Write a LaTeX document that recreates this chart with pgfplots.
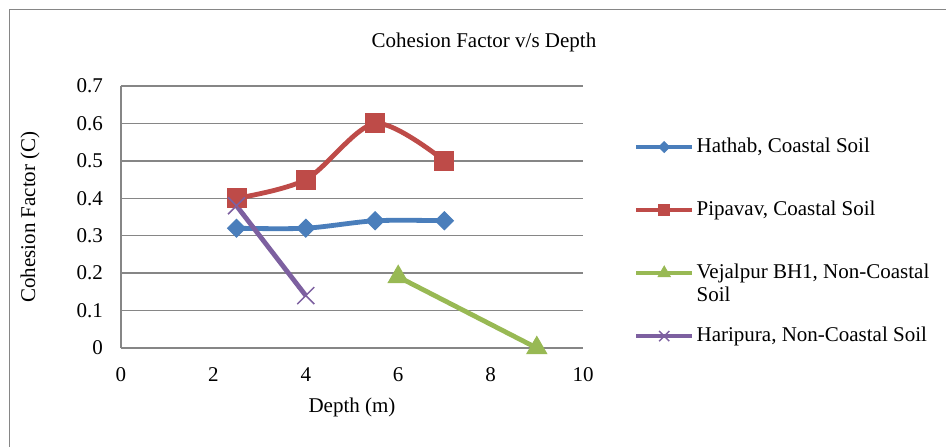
\documentclass[border=0pt]{standalone}
\usepackage{fontspec}
\setmainfont{Liberation Serif}
\usepackage{pgfplots}
\pgfplotsset{compat=1.18}
\definecolor{cblue}{HTML}{4A7EBB}
\definecolor{cred}{HTML}{BE4B48}
\definecolor{cgreen}{HTML}{98B954}
\definecolor{cpurple}{HTML}{7D60A0}
\definecolor{cgrid}{HTML}{868686}
\newcommand{\ff}{\fontsize{21}{23}\selectfont}
\begin{document}
\begin{tikzpicture}[x=1pt,y=1pt,font=\ff]
\useasboundingbox (0,0) rectangle (946,447);
\draw[cgrid, line width=1.3pt] (9.5,0) -- (9.5,437.5) -- (946,437.5);
\node[anchor=base] at (484,399) {Cohesion Factor v/s Depth};
\begin{axis}[
  at={(121pt,99pt)}, anchor=south west,
  scale only axis, width=462pt, height=262pt,
  xmin=0, xmax=10, ymin=0, ymax=0.7,
  clip=false,
  axis lines=left,
  axis line style={-, cgrid, line width=1.5pt},
  ymajorgrids, grid style={cgrid, line width=1.3pt},
  major tick length=0pt,
  xtick={0,2,4,6,8,10},
  xticklabels={0,2,4,6,8,10},
  ytick={0,0.1,0.2,0.3,0.4,0.5,0.6,0.7},
  yticklabels={0,0.1,0.2,0.3,0.4,0.5,0.6,0.7},
  tick label style={font=\ff},
  yticklabel style={inner sep=0pt, anchor=east, xshift=-18pt},
  xticklabel style={inner sep=0pt, anchor=north, yshift=-19pt},
  xlabel={Depth (m)},
  ylabel={Cohesion Factor (C)},
  label style={font=\ff},
  xlabel style={at={(axis description cs:0.5,-0.225)}, anchor=center, inner sep=0pt},
  ylabel style={at={(axis description cs:-0.197,0.5)}, anchor=center, inner sep=0pt},
  legend image code/.code={\draw[mark repeat=2,mark phase=2,#1,every mark/.append style={scale=0.6}] plot coordinates {(0pt,0pt) (28pt,0pt) (56pt,0pt)};},
  legend cell align=left,
  legend style={at={(axis description cs:1.110,0.805)}, anchor=north west,
    draw=none, fill=none, inner sep=0pt, outer sep=0pt, font=\ff,
    row sep=43pt, column sep=2pt,
    nodes={inner sep=0pt, text height=15pt, text depth=5pt}},
]
\addplot[cblue, line width=4.8pt, smooth, tension=0.5, mark=diamond*, mark size=9pt, mark options={xscale=1.333, line width=1pt, fill=cblue}]
  coordinates {(2.5,0.32) (4,0.32) (5.5,0.34) (7,0.34)};
\addlegendentry{Hathab, Coastal Soil}
\addplot[cred, line width=4.8pt, smooth, tension=0.5, mark=square*, mark size=9.5pt, mark options={line width=1pt, fill=cred}]
  coordinates {(2.5,0.40) (4,0.45) (5.5,0.60) (7,0.50)};
\addlegendentry{Pipavav, Coastal Soil}
\addplot[cgreen, line width=4.8pt, mark=triangle*, mark size=11.5pt, mark options={line width=1pt, fill=cgreen}]
  coordinates {(6,0.19) (9,0.0)};
\addlegendentry{\smash{\begin{tabular}[t]{@{}l@{}}Vejalpur BH1, Non-Coastal\\Soil\end{tabular}}}
\addplot[cpurple, line width=4.8pt, mark=x, mark size=12pt, mark options={line width=1.5pt}]
  coordinates {(2.5,0.38) (4,0.14)};
\addlegendentry{Haripura, Non-Coastal Soil}
\end{axis}
\end{tikzpicture}
\end{document}
